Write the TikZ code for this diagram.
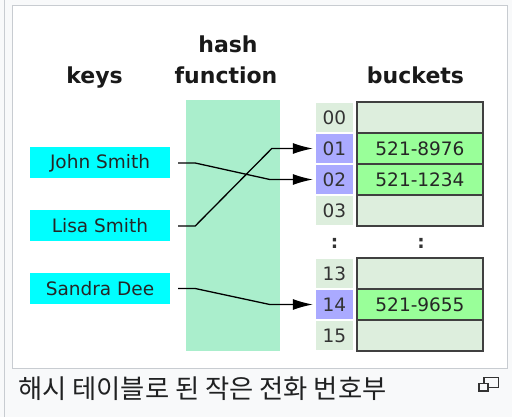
\documentclass[tikz,border=0pt]{standalone}
\usepackage{fontspec}
\setmainfont{DejaVu Sans}
\newfontfamily\krfont{Noto Sans CJK KR}
\usetikzlibrary{arrows.meta}
\definecolor{pagebg}{HTML}{F8F9FA}
\definecolor{frameln}{HTML}{C8CCD1}
\definecolor{keycol}{HTML}{00FFFF}
\definecolor{hashcol}{HTML}{AAEECC}
\definecolor{emptycol}{HTML}{DDEEDD}
\definecolor{fullcol}{HTML}{99FF99}
\definecolor{usedidx}{HTML}{AAAAFF}
\definecolor{txt}{HTML}{202122}
\tikzset{
  hdr/.style={font=\fontsize{22}{24}\selectfont\bfseries, text=black!90, anchor=base, inner sep=0},
  keybox/.style={fill=keycol, minimum width=140pt, minimum height=31pt, inner sep=0,
    font=\fontsize{18.5}{20}\selectfont, text=black!85},
  idxbox/.style={fill=emptycol, minimum width=37pt, minimum height=29pt, inner sep=0,
    font=\fontsize{18.5}{20}\selectfont, text=black!80},
  usedbox/.style={idxbox, fill=usedidx},
  cellbox/.style={draw=black!75, line width=1.2pt, fill=emptycol, minimum width=126pt,
    minimum height=31pt, inner sep=0, font=\fontsize{18.5}{20}\selectfont, text=black!85},
  fullbox/.style={cellbox, fill=fullcol},
  dots/.style={font=\fontsize{18.5}{20}\selectfont\bfseries, text=black!80, inner sep=0},
  conn/.style={line width=1.3pt, black, -{Latex[length=20pt,width=11pt]}},
  frame/.style={draw=frameln, line width=1pt}
}
\begin{document}
\begin{tikzpicture}[x=1pt,y=-1pt]
\useasboundingbox (0,0) rectangle (512,417);
\fill[pagebg] (0,0) rectangle (512,417);
\draw[frameln, line width=1pt] (4.5,0) -- (4.5,417);
\draw[frame, fill=white] (12.5,5.5) rectangle (507.5,368);
% headers
\node[hdr] (hkeys) at (94.5,84) {keys};
\node[hdr] (hhash) at (228,53) {hash};
\node[hdr] (hfunc) at (226,84) {function};
\node[hdr] (hbuck) at (415.5,84) {buckets};
% hash function
\fill[hashcol] (186,100) rectangle (280,351);
% keys
\node[keybox] (john) at (100,163) {John Smith};
\node[keybox] (lisa) at (100,226) {Lisa Smith};
\node[keybox] (sandra) at (100,288.5) {Sandra Dee};
% index boxes
\node[idxbox] (i00) at (334.5,117.5) {00};
\node[usedbox] (i01) at (334.5,148.5) {01};
\node[usedbox] (i02) at (334.5,179.5) {02};
\node[idxbox] (i03) at (334.5,210.5) {03};
\node[idxbox] (i13) at (334.5,273.5) {13};
\node[usedbox] (i14) at (334.5,304.5) {14};
\node[idxbox] (i15) at (334.5,335.5) {15};
% buckets
\node[cellbox] (b00) at (420,117.5) {};
\node[fullbox] (b01) at (420,148.5) {521-8976};
\node[fullbox] (b02) at (420,179.5) {521-1234};
\node[cellbox] (b03) at (420,210.5) {};
\node[cellbox] (b13) at (420,273.5) {};
\node[fullbox] (b14) at (420,304.5) {521-9655};
\node[cellbox] (b15) at (420,335.5) {};
\node[dots] (d1) at (334.5,243) {:};
\node[dots] (d2) at (421,243) {:};
% connectors
\draw[conn] ([xshift=8pt]john.east) -- ++(17,0) -- ([xshift=-46pt]i02.west) -- ([xshift=-3pt]i02.west);
\draw[conn] ([xshift=8pt]lisa.east) -- ++(17,0) -- ([xshift=-44pt]i01.west) -- ([xshift=-3pt]i01.west);
\draw[conn] ([xshift=8pt]sandra.east) -- ++(17,0) -- ([xshift=-46pt]i14.west) -- ([xshift=-3pt]i14.west);
% caption
\node[anchor=base west, inner sep=0, text=txt, font=\krfont\fontsize{26.3}{29}\selectfont] (cap) at (18,398.5) {해시 테이블로 된 작은 전화 번호부};
% magnify icon
\draw[black!80, line width=1.3pt] (484,377.5) rectangle (498.5,387.5);
\draw[black!80, line width=1.3pt, fill=pagebg] (479,383.5) rectangle (488,391);
\end{tikzpicture}
\end{document}
